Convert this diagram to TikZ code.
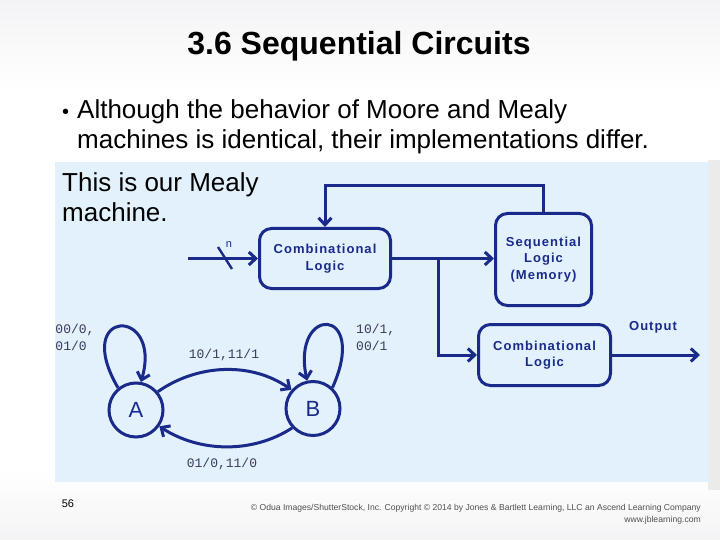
\documentclass[tikz,border=0pt]{standalone}
\usepackage{fontspec}
\setmainfont{Liberation Sans}
\newfontfamily\boxfont[LetterSpace=8]{Liberation Sans}
\newfontfamily\lblfont{Liberation Mono}
\usetikzlibrary{arrows.meta}
\definecolor{dblue}{HTML}{1A2A8A}
\definecolor{panel}{HTML}{E2F1FB}
\definecolor{labelc}{HTML}{3A3A5A}
\definecolor{slidebg}{HTML}{F4F4F6}
\definecolor{footc}{HTML}{505050}
\begin{document}
\begin{tikzpicture}[x=1pt,y=-1pt,
  line/.style={draw=dblue,line width=3pt},
  arr/.style={line,-{Straight Barb[length=7pt,width=13pt]}},
  blk/.style={draw=dblue,line width=3pt,rounded corners=12pt,align=center,text=dblue,
    font=\boxfont\bfseries\fontsize{13}{16.5}\selectfont,inner sep=0pt},
  state/.style={circle,draw=dblue,line width=3pt,minimum size=54pt,inner sep=0pt,
    text=dblue,font=\fontsize{22}{22}\selectfont},
  lbl/.style={text=labelc,font=\lblfont\fontsize{13}{17}\selectfont,align=left,inner sep=0pt},
  body/.style={font=\fontsize{26}{30}\selectfont,inner sep=0pt,anchor=base west}]
\useasboundingbox (0,0) rectangle (720,540);
\fill[white] (0,0) rectangle (720,540);
\shade[top color=slidebg,bottom color=white] (0,0) rectangle (720,90);
\shade[top color=white,bottom color=slidebg] (0,470) rectangle (720,540);
\fill[black!8] (708,160) rectangle (720,490);
\fill[panel] (55,162) rectangle (708,482);
% title and text
\node[font=\bfseries\fontsize{32}{36}\selectfont] (title) at (359,46) {3.6 Sequential Circuits};
\node[body] (bul) at (62,119) {\fontsize{20}{24}\selectfont •};
\node[body] (l1) at (77,119) {Although the behavior of Moore and Mealy};
\node[body] (l2) at (77,149) {machines is identical, their implementations differ.};
\node[body] (m1) at (62,192) {This is our Mealy};
\node[body] (m2) at (62,222) {machine.};
% block diagram
\node[blk,minimum width=131pt,minimum height=60pt] (C1) at (325,258.5) {Combinational\\Logic};
\node[blk,minimum width=96pt,minimum height=92pt] (S) at (543.5,259.5) {Sequential\\Logic\\(Memory)};
\node[blk,minimum width=132pt,minimum height=61pt] (C2) at (544.5,355) {Combinational\\Logic};
\coordinate (in) at (188,258.5);
\coordinate (br) at (438,258.5);
\coordinate (out) at (700,355);
\draw[arr] (in) -- (C1.west);
\draw[line,line width=2.4pt] (218,247) -- (232,269);
\node[text=dblue,font=\fontsize{11}{11}\selectfont,inner sep=0pt] (n) at (229,245) {n};
\draw[arr] (S.north) -- ++(0,-26) -| (C1.north);
\draw[arr] (C1.east) -- (C1.east -| S.west);
\draw[arr] (br) |- (C2.west);
\draw[arr] (C2.east) -- (out);
\node[text=dblue,font=\boxfont\bfseries\fontsize{13}{16}\selectfont,inner sep=0pt] (outl) at (653,327) {Output};
% state diagram
\node[state] (A) at (136,410) {A};
\node[state] (B) at (313,408.5) {B};
\draw[arr] (A.129) .. controls +(-47,-80) and +(22,-76) .. (A.80);
\draw[arr] (B.47) .. controls +(37,-82) and +(-16,-76) .. (B.102);
\draw[arr] (A.40) .. controls +(40,-28) and +(-40,-28) .. (B.139);
\draw[arr] (B.223) .. controls +(-40,26) and +(40,26) .. (A.325);
\node[lbl] (la) at (75,337) {00/0,\\01/0};
\node[lbl,anchor=west] (lb) at (356,337) {10/1,\\00/1};
\node[lbl] (lt) at (224,355) {10/1,11/1};
\node[lbl] (lbot) at (222,464) {01/0,11/0};
% footer
\node[font=\fontsize{11}{11}\selectfont,inner sep=0pt] (pg) at (68,504) {56};
\node[font=\fontsize{8.6}{10}\selectfont,text=footc,inner sep=0pt,anchor=east] (cp1) at (701,508)
  {© Odua Images/ShutterStock, Inc. Copyright © 2014 by Jones \& Bartlett Learning, LLC an Ascend Learning Company};
\node[font=\fontsize{8.6}{10}\selectfont,text=footc,inner sep=0pt,anchor=east] (cp2) at (701,520) {www.jblearning.com};
\end{tikzpicture}
\end{document}
